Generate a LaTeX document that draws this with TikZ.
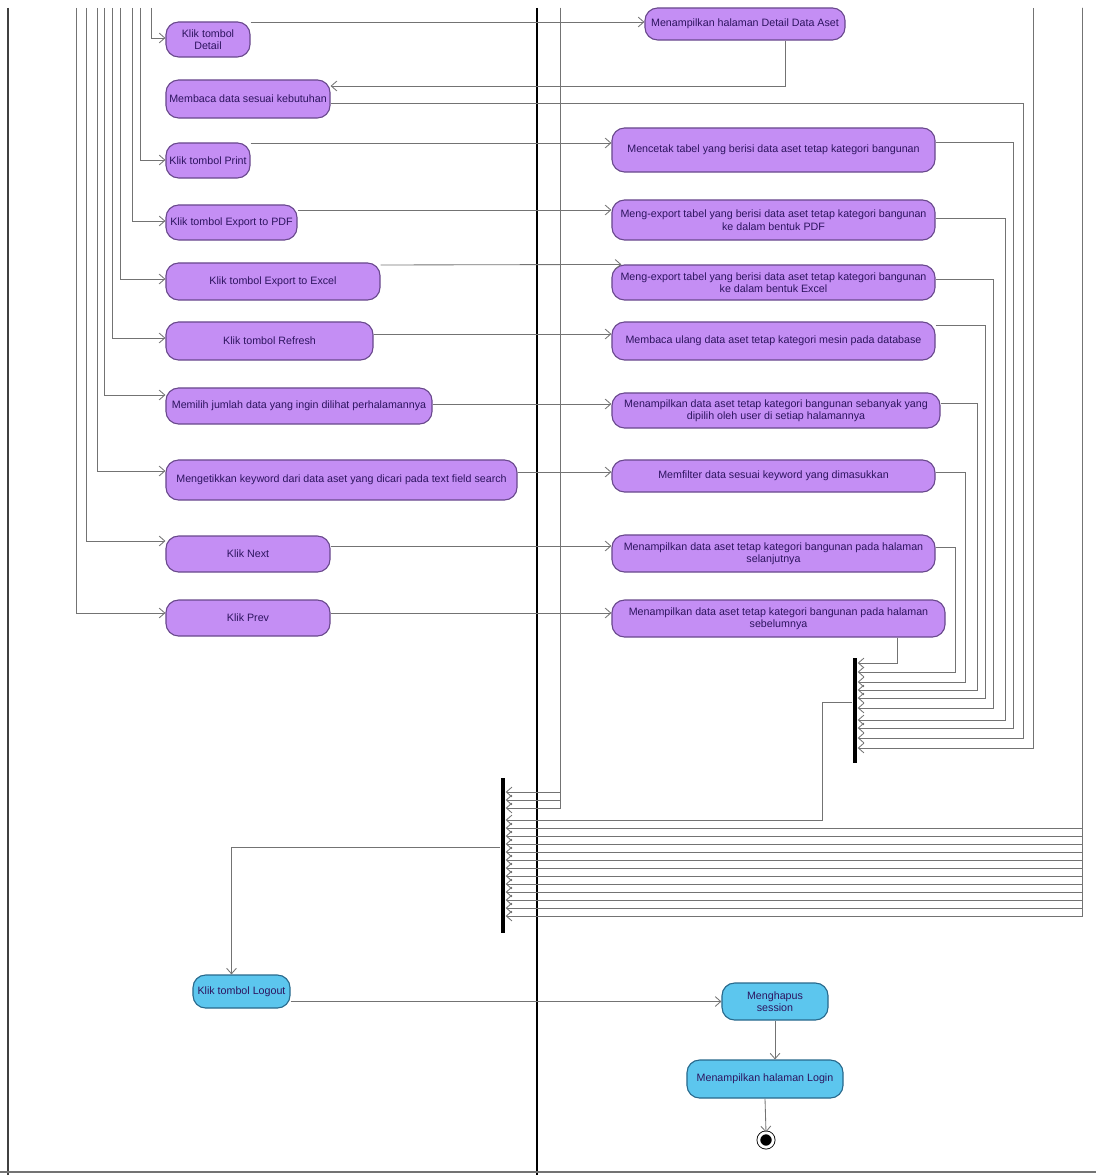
\documentclass[tikz,border=0pt]{standalone}
\usepackage{fontspec}
\setmainfont{Liberation Sans}
\usepackage{xcolor}
\usepackage{tikz}
\usetikzlibrary{arrows.meta, positioning}
\definecolor{actfill}{RGB}{196,142,244}
\definecolor{actline}{RGB}{105,72,140}
\definecolor{endfill}{RGB}{92,198,238}
\definecolor{endline}{RGB}{40,105,140}
\definecolor{acttext}{RGB}{45,20,95}

\begin{document}
\begin{tikzpicture}[x=0.025cm, y=-0.025cm, font=\fontsize{7.6}{8.8}\selectfont, >={Straight Barb[length=4pt,width=7pt]},
  act/.style={draw=actline, fill=actfill, text=acttext, rounded corners=9pt, align=center, inner sep=1.5pt, line width=0.8pt},
  lastact/.style={draw=endline, fill=endfill, text=acttext, rounded corners=9pt, align=center, inner sep=1.5pt, line width=0.8pt},
  flow/.style={draw=black!55, line width=0.6pt},
  joinbar/.style={fill=black, minimum width=0.12cm, inner sep=0pt},
  stopnode/.style={circle, draw, fill=black, double, double distance=2pt, line width=0.6pt, minimum size=0.36cm, inner sep=0pt}]
\useasboundingbox (0,0) rectangle (1096,1175);
% lanes
\draw[line width=1.4pt, black!75] (8,8) -- (8,1175);
\draw[line width=1.4pt] (537,8) -- (537,1175);
\draw[line width=1pt, black!55] (0,1172) -- (1096,1172);

% user lane
\node[act, minimum width=2.1cm, minimum height=0.875cm] (detail) at (208,39.5) {Klik tombol\\Detail};
\node[act, minimum width=4.1cm, minimum height=0.95cm] (baca) at (248,99) {Membaca data sesuai kebutuhan};
\node[act, minimum width=2.1cm, minimum height=0.875cm] (print) at (208,160.5) {Klik tombol Print};
\node[act, minimum width=3.275cm, minimum height=0.875cm] (pdf) at (231.5,222.5) {Klik tombol Export to PDF};
\node[act, minimum width=5.35cm, minimum height=0.925cm] (excel) at (273,281.5) {Klik tombol Export to Excel};
\node[act, minimum width=5.175cm, minimum height=0.95cm] (refresh) at (269.5,341) {Klik tombol Refresh};
\node[act, minimum width=6.65cm, minimum height=0.9cm] (jumlah) at (299,406) {Memilih jumlah data yang ingin dilihat perhalamannya};
\node[act, minimum width=8.775cm, minimum height=1cm] (keyword) at (341.5,480) {Mengetikkan keyword dari data aset yang dicari pada text field search};
\node[act, minimum width=4.1cm, minimum height=0.9cm] (next) at (248,554) {Klik Next};
\node[act, minimum width=4.1cm, minimum height=0.9cm] (prev) at (248,618) {Klik Prev};
\node[lastact, minimum width=2.425cm, minimum height=0.825cm] (logout) at (241.5,991.5) {Klik tombol Logout};

% system lane
\node[act, minimum width=5cm, minimum height=0.8cm] (halDetail) at (745,24) {Menampilkan halaman Detail Data Aset};
\node[act, minimum width=8.075cm, minimum height=1.1cm] (cetak) at (773.5,150) {Mencetak tabel yang berisi data aset tetap kategori bangunan};
\node[act, minimum width=8.075cm, minimum height=1cm] (toPdf) at (773.5,220) {Meng-export tabel yang berisi data aset tetap kategori bangunan\\ke dalam bentuk PDF};
\node[act, minimum width=8.075cm, minimum height=0.875cm] (toExcel) at (773.5,282.5) {Meng-export tabel yang berisi data aset tetap kategori bangunan\\ke dalam bentuk Excel};
\node[act, minimum width=8.075cm, minimum height=0.95cm] (ulang) at (773.5,341) {Membaca ulang data aset tetap kategori mesin pada database};
\node[act, minimum width=8.2cm, minimum height=0.875cm] (perHal) at (776,410.5) {Menampilkan data aset tetap kategori bangunan sebanyak yang\\dipilih oleh user di setiap halamannya};
\node[act, minimum width=8.075cm, minimum height=0.8cm] (filter) at (773.5,476) {Memfilter data sesuai keyword yang dimasukkan};
\node[act, minimum width=8.075cm, minimum height=0.925cm] (halNext) at (773.5,553.5) {Menampilkan data aset tetap kategori bangunan pada halaman\\selanjutnya};
\node[act, minimum width=8.325cm, minimum height=0.925cm] (halPrev) at (778.5,618.5) {Menampilkan data aset tetap kategori bangunan pada halaman\\sebelumnya};
\node[lastact, minimum width=2.65cm, minimum height=0.925cm] (session) at (775,1001.5) {Menghapus\\session};
\node[lastact, minimum width=3.9cm, minimum height=0.95cm] (login) at (765,1079) {Menampilkan halaman Login};
\node[stopnode] (fin) at (766,1140) {};

% join bars
\node[joinbar, minimum height=2.625cm] (join1) at (855,710.5) {};
\node[joinbar, minimum height=3.875cm] (join2) at (503,855.5) {};

% flows coming in from the previous page
\coordinate (topUser) at (0,8);
\coordinate (topA) at (560,8);
\coordinate (topB) at (1033,8);
\coordinate (topC) at (1082,8);
\foreach \cx/\dst/\dy in {151/detail/38, 140/print/160, 132/pdf/221, 120/excel/279, 112/refresh/338, 104/jumlah/395, 97/keyword/471, 86/next/541, 76/prev/613}
  \draw[flow,->] (topUser -| \cx,0) |- (\dst.west |- 0,\dy);

% user -> system
\draw[flow,->] (detail.east |- 0,22) -- (halDetail.west |- 0,22);
\draw[flow,->] ([xshift=1cm]halDetail.south) |- (baca.east |- 0,86);
\draw[flow,->] (print.east |- 0,143) -- (cetak.west |- 0,143);
\draw[flow,->] (pdf.east |- 0,210) -- (toPdf.west |- 0,210);
\draw[flow,->] (excel.east |- 0,265) -- ([xshift=0.25cm]toExcel.north west);
\draw[flow,->] (refresh.east |- 0,334) -- (ulang.west |- 0,334);
\draw[flow,->] (jumlah.east |- 0,404) -- (perHal.west |- 0,404);
\draw[flow,->] (keyword.east |- 0,472) -- (filter.west |- 0,472);
\draw[flow,->] (next.east |- 0,546) -- (halNext.west |- 0,546);
\draw[flow,->] (prev.east |- 0,613) -- (halPrev.west |- 0,613);

% into join1
\draw[flow,->] (halPrev.south -| 897,0) |- (join1.east |- 0,663);
\foreach \src/\sy/\cx/\by in {halNext/547/955/672, filter/472/965/682, perHal/403/977/690, ulang/325/985/698, toExcel/279/993/708, toPdf/218/1005/720, cetak/142/1013/728, baca/103/1023/738}
  \draw[flow,->] (\src.east |- 0,\sy) -| (\cx,\by) -- (join1.east |- 0,\by);
\draw[flow,->] (topB) |- (join1.east |- 0,748);

% into join2
\draw[flow,->] (join1.west |- 0,702) -| (822,820) -- (join2.east |- 0,820);
\foreach \by in {792,800,808}
  \draw[flow,->] (topA) |- (join2.east |- 0,\by);
\foreach \by in {828,836,...,916}
  \draw[flow,->] (topC) |- (join2.east |- 0,\by);

% logout
\draw[flow,->] (join2.west |- 0,847) -| ([xshift=-0.25cm]logout.north);
\draw[flow,->] (logout.east |- session.west) -- (session.west);
\draw[flow,->] (session.south) -- (session.south |- login.north);
\draw[flow,->] (login.south) -- (fin.north);
\end{tikzpicture}
\end{document}
